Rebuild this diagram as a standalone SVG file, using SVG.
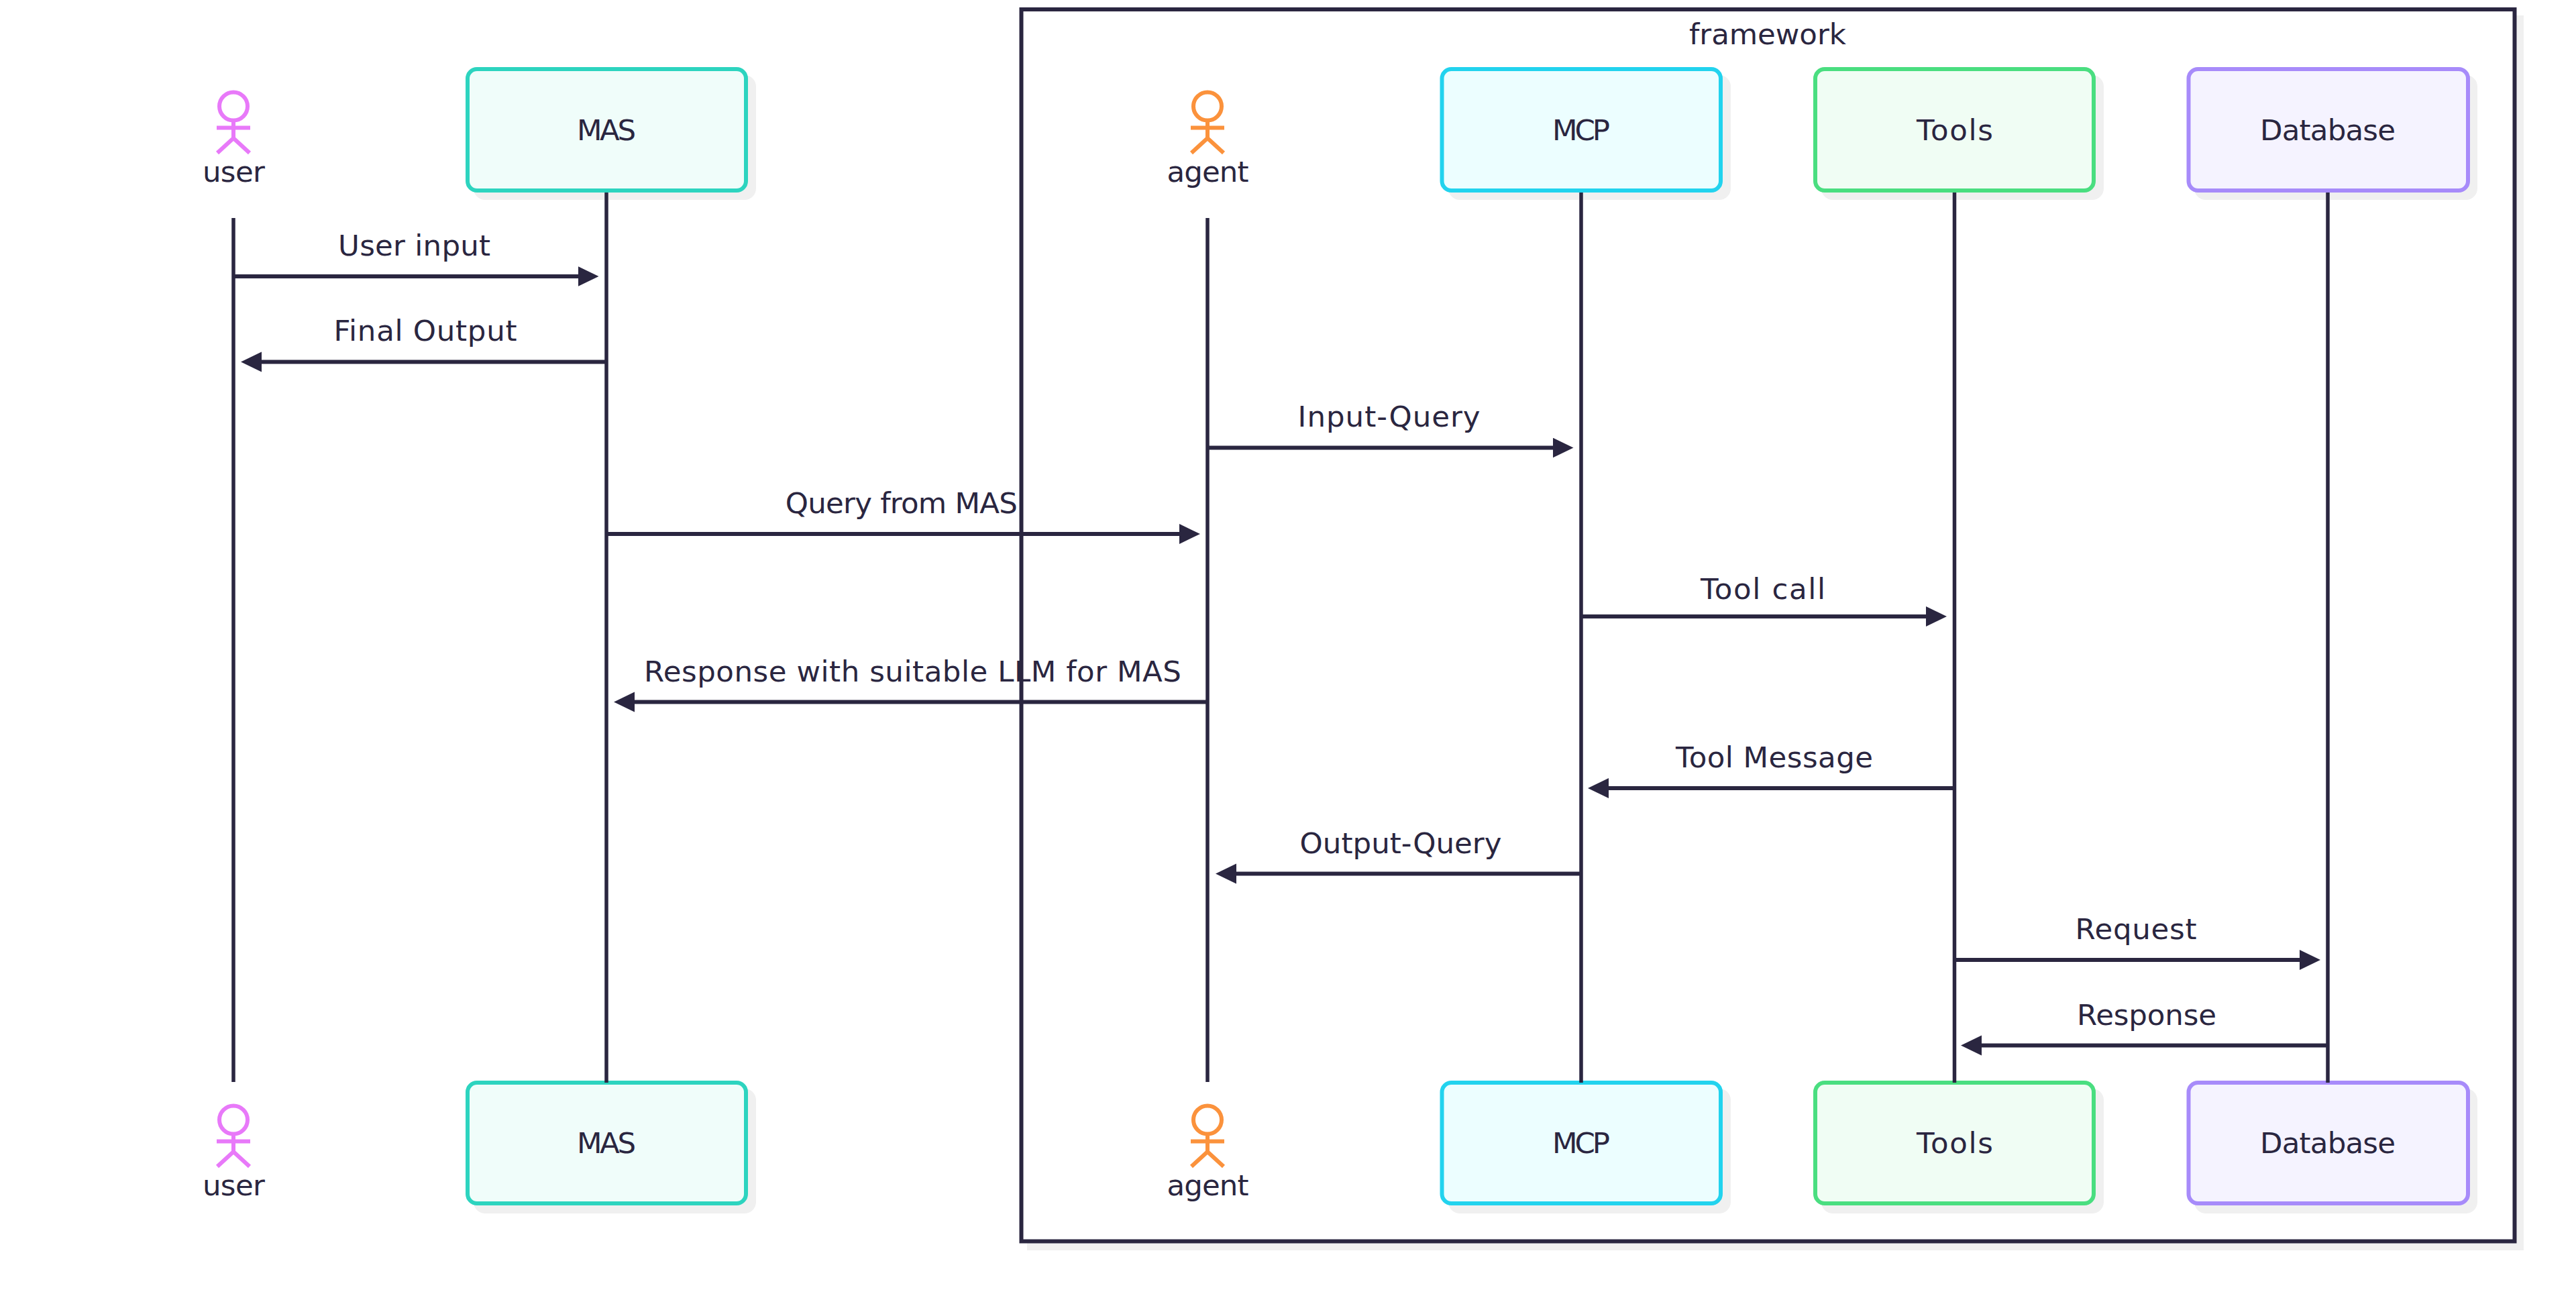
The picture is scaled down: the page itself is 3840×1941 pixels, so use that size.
<svg xmlns="http://www.w3.org/2000/svg" width="3840" height="1941" viewBox="0 0 3840 1941">
<style>
text{font-family:"DejaVu Sans","Noto Sans",sans-serif;font-size:43.5px;fill:#2a2640;text-anchor:middle}
.sh{fill:#f0f0f0}
.box{stroke-width:6}
.life{stroke:#2a2640;stroke-width:5.5;fill:none}
.msg{stroke:#2a2640;stroke-width:6;fill:none;marker-end:url(#ah)}
.pink{fill:none;stroke:#e879f9;stroke-width:6}
.orange{fill:none;stroke:#fb923c;stroke-width:6}
</style>
<defs><marker id="ah" markerUnits="userSpaceOnUse" markerWidth="32" markerHeight="32" refX="16" refY="15" orient="auto"><path d="M0 0L31 15L0 30Z" fill="#2a2640"/></marker></defs>
<rect width="3840" height="1941" fill="#fff"/>
<g id="frame"><rect class="sh" x="1531" y="23" width="2231" height="1841"/><rect x="1522.5" y="14" width="2226" height="1836.5" fill="#fff" stroke="#2a2640" stroke-width="6"/><text x="2635" y="66" textLength="234" lengthAdjust="spacing">framework</text></g>
<g id="user-top"><circle class="pink" cx="348" cy="158.5" r="21"/><path class="pink" d="M348 181V206M323 190.5H373M348 206L324 228M348 206L372 228"/><text x="348.4" y="270.5" textLength="93">user</text></g>
<g id="agent-top"><circle class="orange" cx="1800" cy="158.5" r="21"/><path class="orange" d="M1800 181V206M1775 190.5H1825M1800 206L1776 228M1800 206L1824 228"/><text x="1800.5" y="270.5" textLength="122">agent</text></g>
<g id="user-bottom"><circle class="pink" cx="348" cy="1669.5" r="21"/><path class="pink" d="M348 1692V1717M323 1701.5H373M348 1717L324 1739M348 1717L372 1739"/><text x="348.4" y="1781.5" textLength="93">user</text></g>
<g id="agent-bottom"><circle class="orange" cx="1800" cy="1669.5" r="21"/><path class="orange" d="M1800 1692V1717M1775 1701.5H1825M1800 1717L1776 1739M1800 1717L1824 1739"/><text x="1800.5" y="1781.5" textLength="122">agent</text></g>
<g id="mas-top"><rect class="sh" x="706" y="112" width="421" height="186" rx="17"/><rect class="box" x="697" y="103" width="415" height="181" rx="14" fill="#f0fdfa" stroke="#2dd4bf"/><text x="904" y="208.5" textLength="88">MAS</text></g>
<g id="mcp-top"><rect class="sh" x="2159" y="112" width="421" height="186" rx="17"/><rect class="box" x="2149.5" y="103" width="415.5" height="181" rx="14" fill="#ecfeff" stroke="#22d3ee"/><text x="2357" y="208.5" textLength="86">MCP</text></g>
<g id="tools-top"><rect class="sh" x="2715" y="112" width="421" height="186" rx="17"/><rect class="box" x="2706" y="103" width="415" height="181" rx="14" fill="#f0fdf4" stroke="#4ade80"/><text x="2914" y="208.5" textLength="114">Tools</text></g>
<g id="database-top"><rect class="sh" x="3271" y="112" width="422" height="186" rx="17"/><rect class="box" x="3262.5" y="103" width="416.5" height="181" rx="14" fill="#f5f3ff" stroke="#a78bfa"/><text x="3470" y="208.5" textLength="202">Database</text></g>
<g id="mas-bottom"><rect class="sh" x="706" y="1623" width="421" height="186" rx="17"/><rect class="box" x="697" y="1614" width="415" height="180" rx="14" fill="#f0fdfa" stroke="#2dd4bf"/><text x="904" y="1719" textLength="88">MAS</text></g>
<g id="mcp-bottom"><rect class="sh" x="2159" y="1623" width="421" height="186" rx="17"/><rect class="box" x="2149.5" y="1614" width="415.5" height="180" rx="14" fill="#ecfeff" stroke="#22d3ee"/><text x="2357" y="1719" textLength="86">MCP</text></g>
<g id="tools-bottom"><rect class="sh" x="2715" y="1623" width="421" height="186" rx="17"/><rect class="box" x="2706" y="1614" width="415" height="180" rx="14" fill="#f0fdf4" stroke="#4ade80"/><text x="2914" y="1719" textLength="114">Tools</text></g>
<g id="database-bottom"><rect class="sh" x="3271" y="1623" width="422" height="186" rx="17"/><rect class="box" x="3262.5" y="1614" width="416.5" height="180" rx="14" fill="#f5f3ff" stroke="#a78bfa"/><text x="3470" y="1719" textLength="202">Database</text></g>
<g id="connectors">
<path class="life" d="M348 325V1613M904 287V1614M1800 325V1613M2357 287V1614M2913.5 287V1614M3470 287V1614"/>
<path class="msg" d="M350 412H877.5"/><path class="msg" d="M902 539.5H374"/><path class="msg" d="M1802 667.5H2330.5"/><path class="msg" d="M906 796H1774"/><path class="msg" d="M2359 919H2887"/><path class="msg" d="M1798 1046.5H930"/><path class="msg" d="M2911 1175H2382"/><path class="msg" d="M2355 1302.5H1827"/><path class="msg" d="M2916 1431H3444"/><path class="msg" d="M3468 1558.5H2938"/>
<text x="617.6" y="380.5" textLength="227">User input</text><text x="634" y="508" textLength="273">Final Output</text><text x="2070.6" y="636" textLength="272">Input-Query</text><text x="1343.8" y="764.5" textLength="346">Query from MAS</text><text x="2628" y="893" textLength="186">Tool call</text><text x="1360.4" y="1015.5" textLength="801">Response with suitable LLM for MAS</text><text x="2645" y="1143.5" textLength="294">Tool Message</text><text x="2088" y="1271.5" textLength="301">Output-Query</text><text x="3184" y="1399.5" textLength="181">Request</text><text x="3200" y="1527.5" textLength="208">Response</text>
</g>
</svg>
